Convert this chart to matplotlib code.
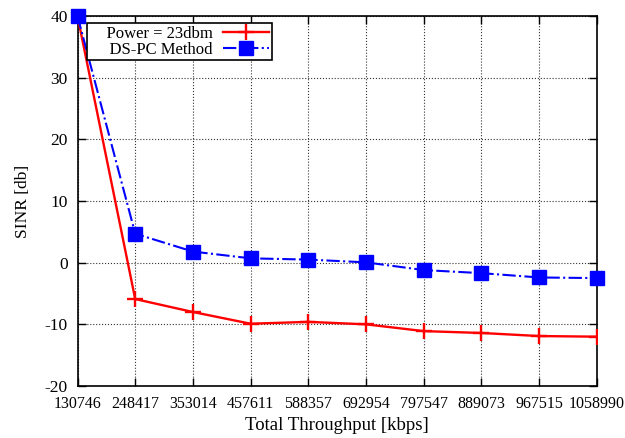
import matplotlib
matplotlib.use('Agg')
import matplotlib.pyplot as plt

throughput = ['130746', '248417', '353014', '457611', '588357', '692954',
              '797547', '889073', '967515', '1058990']
power_23dbm = [40, -5.9, -8.0, -9.9, -9.6, -10.0, -11.1, -11.4, -11.9, -12.0]
ds_pc = [40, 4.7, 1.8, 0.7, 0.5, 0.05, -1.2, -1.7, -2.4, -2.5]

plt.rcParams['font.family'] = ['Liberation Serif', 'DejaVu Serif']
plt.rcParams['font.size'] = 12
plt.rcParams['axes.unicode_minus'] = False

fig = plt.figure(figsize=(6.25, 4.38), dpi=100)
ax = fig.add_axes([0.124, 0.1187, 0.831, 0.8448])

x = list(range(len(throughput)))
ax.plot(x, power_23dbm, color='red', lw=1.7, marker='+', ms=12, mew=1.7,
        label='Power = 23dbm', zorder=3)
ax.plot(x, ds_pc, color='blue', lw=1.5, ls='-.', marker='s', ms=10.5,
        label='DS-PC Method', zorder=4, clip_on=False)

ax.set_xlim(0, len(throughput) - 1)
ax.set_ylim(-20, 40)
ax.set_xticks(x)
ax.set_xticklabels(throughput)
ax.set_yticks(range(-20, 41, 10))
ax.tick_params(direction='in', top=True, right=True, length=6, width=1)
ax.tick_params(axis='x', labelsize=11.5, pad=7)
ax.tick_params(axis='y', labelsize=12.5, pad=7)
ax.grid(True, ls=':', color='#333333', lw=0.8)
for s in ax.spines.values():
    s.set_linewidth(1.2)

ax.set_xlabel('Total Throughput [kbps]', fontsize=13.5, labelpad=4)
ax.set_ylabel('SINR [db]', fontsize=12.5, labelpad=10)

leg = ax.legend(loc='upper left', bbox_to_anchor=(0.019, 0.981), markerfirst=False,
                fancybox=False, framealpha=1, edgecolor='black', fontsize=12,
                borderpad=0.15, labelspacing=0.0, handlelength=2.8,
                handletextpad=0.6, borderaxespad=0)
leg.get_frame().set_linewidth(1.2)
# gnuplot pads the key on the left
for t in leg.get_texts():
    t.set_text('    ' + t.get_text())

fig.savefig('out.png', dpi=100)
